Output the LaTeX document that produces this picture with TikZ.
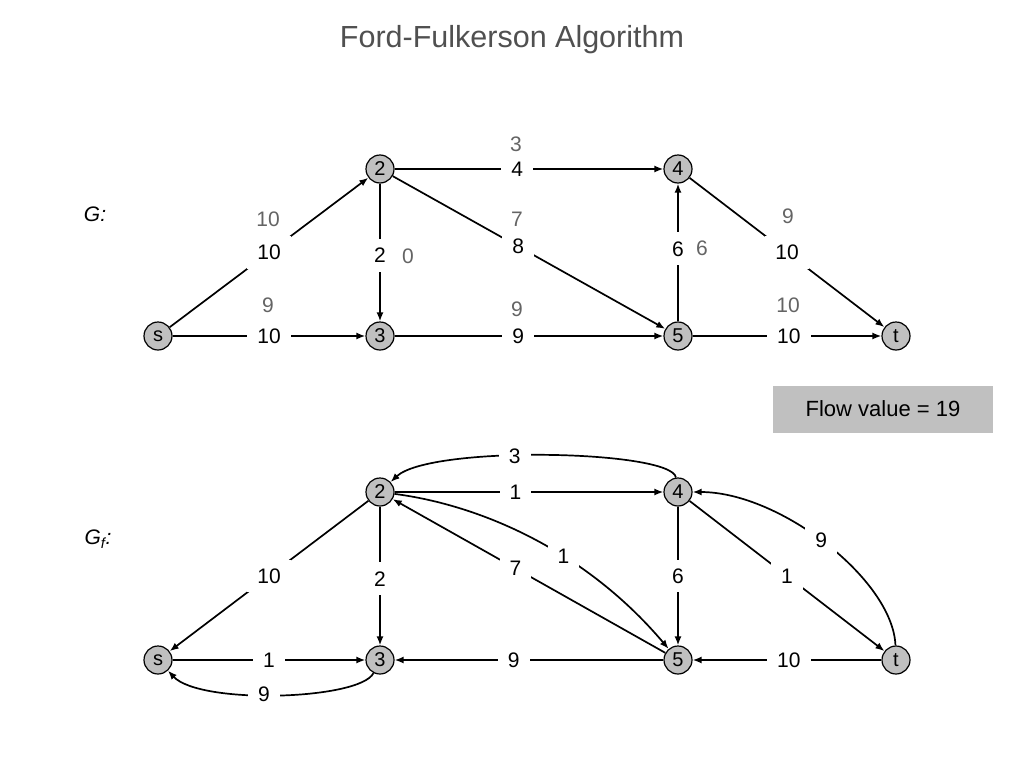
\documentclass[tikz,border=0pt]{standalone}
\usepackage{fontspec}
\setmainfont{Liberation Sans}
\usetikzlibrary{arrows.meta,calc}
\definecolor{nodegray}{RGB}{192,192,192}
\definecolor{labgray}{RGB}{100,100,100}
\definecolor{titlegray}{RGB}{80,80,80}
\begin{document}
\begin{tikzpicture}[x=1pt,y=-1pt,
  vtx/.style={circle,draw=black,line width=1.2pt,fill=nodegray,minimum size=28pt,inner sep=0pt,font=\fontsize{20}{20}\selectfont},
  edge/.style={line width=1.7pt,-{Latex[length=9pt,width=7pt]}},
  elab/.style={fill=white,inner xsep=10pt,inner ysep=9pt,font=\fontsize{21}{21}\selectfont},
  glab/.style={text=labgray,inner sep=0pt,font=\fontsize{21}{21}\selectfont},
  side/.style={font=\fontsize{21}{21}\selectfont\itshape}]
\useasboundingbox (0,0) rectangle (1024,768);
\node[text=titlegray,font=\fontsize{30.5}{30.5}\selectfont] (title) at (512,40) {Ford-Fulkerson Algorithm};
% ---------- G ----------
\node[side] (lg) at (95,214) {G:};
\node[vtx] (s1) at (158,336) {s};
\node[vtx] (a2) at (380,169) {2};
\node[vtx] (a3) at (380,336) {3};
\node[vtx] (a4) at (678,169) {4};
\node[vtx] (a5) at (678,336) {5};
\node[vtx] (t1) at (896,336) {t};
\draw[edge] (s1) -- node[elab]{10} (a2);
\draw[edge] (s1) -- node[elab]{10} (a3);
\draw[edge] (a2) -- node[elab,pos=0.52]{2} (a3);
\draw[edge] (a2) -- node[elab,pos=0.456]{4} (a4);
\draw[edge] (a2) -- node[elab,pos=0.46]{8} (a5);
\draw[edge] (a3) -- node[elab,pos=0.46]{9} (a5);
\draw[edge] (a5) -- node[elab,pos=0.527]{6} (a4);
\draw[edge] (a4) -- node[elab]{10} (t1);
\draw[edge] (a5) -- node[elab,pos=0.51]{10} (t1);
\node[glab] (f1) at (268,219) {10};
\node[glab] (f2) at (268,305) {9};
\node[glab] (f3) at (408,256) {0};
\node[glab] (f4) at (516,144) {3};
\node[glab] (f5) at (517,219) {7};
\node[glab] (f6) at (517,309) {9};
\node[glab] (f7) at (702,248) {6};
\node[glab] (f8) at (788,216) {9};
\node[glab] (f9) at (788,305) {10};
% ---------- flow value ----------
\node[fill=nodegray,minimum width=220pt,minimum height=47pt,inner sep=0pt,font=\fontsize{22}{22}\selectfont] (fv) at (883,409) {Flow value = 19};
% ---------- G_f ----------
\node[side] (lgf) at (98,539) {G\textsubscript{f}:};
\node[vtx] (bs) at (158,660) {s};
\node[vtx] (b2) at (380,492) {2};
\node[vtx] (b3) at (380,660) {3};
\node[vtx] (b4) at (678,492) {4};
\node[vtx] (b5) at (678,660) {5};
\node[vtx] (bt) at (896,660) {t};
\draw[edge] (b4) .. controls (672,450) and (430,445) .. (b2) node[elab,pos=0.58]{3};
\draw[edge] (b2) -- node[elab,pos=0.45]{1} (b4);
\draw[edge] (b2) .. controls (480,505) and (585,550) .. (b5) node[elab,pos=0.61]{1};
\draw[edge] (b5) -- node[elab,pos=0.55]{7} (b2);
\draw[edge] (b2) -- node[elab]{10} (bs);
\draw[edge] (b2) -- node[elab,pos=0.52]{2} (b3);
\draw[edge] (bs) -- node[elab]{1} (b3);
\draw[edge] (b3) .. controls (360,700) and (200,705) .. (bs) node[elab,pos=0.55]{9};
\draw[edge] (b5) -- node[elab,pos=0.557]{9} (b3);
\draw[edge] (b4) -- node[elab]{6} (b5);
\draw[edge] (b4) -- node[elab]{1} (bt);
\draw[edge] (bt) -- node[elab,pos=0.49]{10} (b5);
\draw[edge] (bt) .. controls (893,580) and (780,492) .. (b4) node[elab,pos=0.52]{9};
\end{tikzpicture}
\end{document}
